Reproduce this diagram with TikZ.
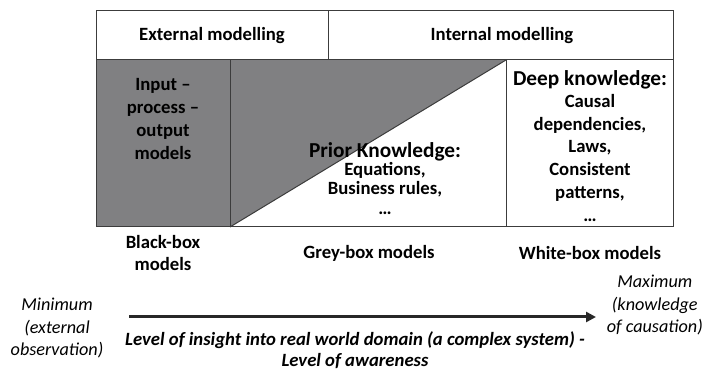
\documentclass[tikz,border=0pt]{standalone}
\usepackage{fontspec}
\setmainfont{Carlito}
\usetikzlibrary{arrows.meta}
\definecolor{boxgrey}{RGB}{128,128,130}
\definecolor{edge}{RGB}{60,60,60}
\definecolor{arrowc}{RGB}{40,40,40}
\tikzset{
  cell/.style={draw=edge, line width=1pt},
  lab/.style={font=\fontsize{18.7}{22.8}\selectfont\bfseries, align=center, inner sep=0pt},
  big/.style={font=\fontsize{21.3}{23}\selectfont\bfseries, align=center, inner sep=0pt},
  itl/.style={font=\fontsize{18.2}{22.5}\selectfont\itshape, align=center, inner sep=0pt},
  bitl/.style={font=\fontsize{18.7}{20.5}\selectfont\bfseries\itshape, align=center, inner sep=0pt},
  axis/.style={draw=arrowc, line width=3pt, -{Triangle[length=10pt,width=10pt]}}
}
\begin{document}
\begin{tikzpicture}[x=1pt,y=-1pt]
\useasboundingbox (0,0) rectangle (705,371);
% header
\draw[cell] (96,11) rectangle (673,60);
\draw[cell] (328,11) -- (328,60);
\node[lab] (ext) at (212,36) {External modelling};
\node[lab] (int) at (502,36) {Internal modelling};
% body
\fill[boxgrey] (96,60) rectangle (230,227);
\fill[boxgrey] (230,227) -- (506,60) -- (230,60) -- cycle;
\draw[cell] (96,60) rectangle (673,227);
\draw[cell] (230,60) -- (230,227);
\draw[cell] (506,60) -- (506,227);
\draw[cell] (230,227) -- (506,60);
\node[lab] (ipo) at (163,119) {Input --\\process --\\output\\models};
\node[big] (prior) at (385,152) {Prior Knowledge:};
\node[lab, font=\fontsize{18.7}{19.5}\selectfont\bfseries, anchor=north] (eq) at (385,162) {Equations,\\Business rules,\\\dots};
\node[big] (deep) at (590,80) {Deep knowledge:};
\node[lab, anchor=north] (dl) at (590,94) {Causal\\dependencies,\\Laws,\\Consistent\\patterns,\\\dots};
% bottom labels
\node[lab] (bb) at (163,253) {Black-box\\models};
\node[lab] (gb) at (369,253) {Grey-box models};
\node[lab] (wb) at (590,253) {White-box models};
% axis
\node[itl] (min) at (57,328) {Minimum\\(external\\observation)};
\node[itl, anchor=east] (max) at (703,305) {Maximum\\(knowledge\\of causation)};
\coordinate (a0) at (129,317);
\coordinate (a1) at (596,317);
\draw[axis] (a0) -- (a1);
\node[bitl] (lev) at (355,350) {Level of insight into real world domain (a complex system) -\\Level of awareness};
\end{tikzpicture}
\end{document}
